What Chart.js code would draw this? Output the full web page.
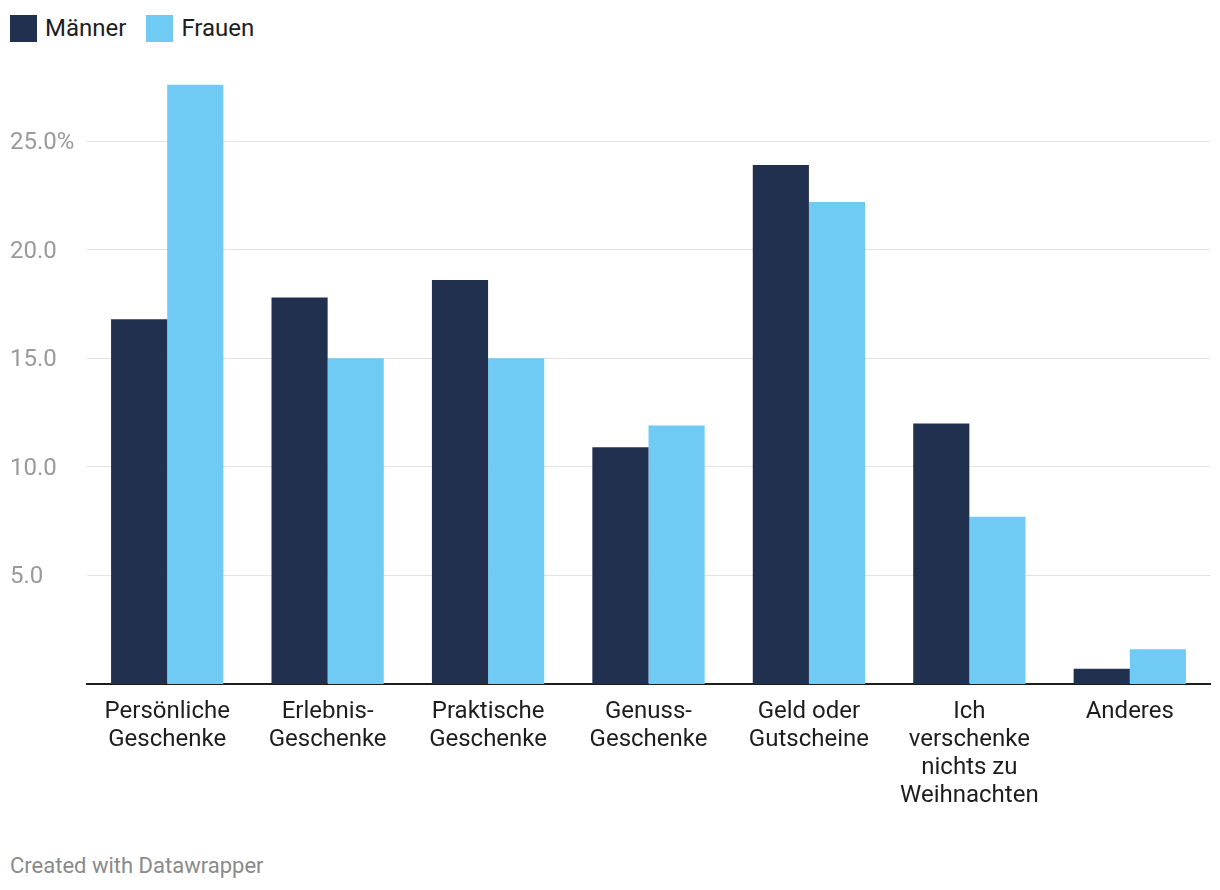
<!DOCTYPE html>
<html>
<head>
<meta charset="utf-8">
<script src="https://cdn.jsdelivr.net/npm/chart.js@4.4.0/dist/chart.umd.min.js"></script>
<style>
  html, body { margin: 0; padding: 0; background: #fff; }
  body { width: 1220px; height: 890px; position: relative; font-family: Roboto, "Noto Sans", sans-serif; overflow: hidden; }
  #legend { position: absolute; left: 10px; top: 14px; display: flex; align-items: center; font-size: 24px; color: #1d1d1d; }
  .item { display: flex; align-items: center; margin-right: 20px; }
  .sw { width: 27px; height: 27px; margin-right: 8px; }
  #wrap { position: absolute; left: 0; top: 0; width: 1220px; height: 830px; }
  #foot { position: absolute; left: 10px; top: 853px; font-size: 22px; color: #8a8a8a; }
</style>
</head>
<body>
<div id="legend"></div>
<div id="wrap"><canvas id="chart"></canvas></div>
<div id="foot">Created with Datawrapper</div>
<script>
// Kategorien (mehrzeilig wie im Original)
const categories = [
  ["Persönliche", "Geschenke"],
  ["Erlebnis-", "Geschenke"],
  ["Praktische", "Geschenke"],
  ["Genuss-", "Geschenke"],
  ["Geld oder", "Gutscheine"],
  ["Ich", "verschenke", "nichts zu", "Weihnachten"],
  ["Anderes"]
];
const maenner = [16.8, 17.8, 18.6, 10.9, 23.9, 12.0, 0.7];
const frauen = [27.6, 15.0, 15.0, 11.9, 22.2, 7.7, 1.6];
const yTicks = [5, 10, 15, 20, 25];

const DARK = "#223050";
const LIGHT = "#70cbf4";

// Legende als HTML
const legend = document.getElementById("legend");
[["Männer", DARK], ["Frauen", LIGHT]].forEach(([name, col]) => {
  const it = document.createElement("div");
  it.className = "item";
  it.innerHTML = '<div class="sw" style="background:' + col + '"></div><span>' + name + "</span>";
  legend.appendChild(it);
});

const chart = new Chart(document.getElementById("chart"), {
  type: "bar",
  data: {
    labels: categories,
    datasets: [
      { label: "Männer", data: maenner, backgroundColor: DARK },
      { label: "Frauen", data: frauen, backgroundColor: LIGHT }
    ]
  },
  options: {
    responsive: true,
    maintainAspectRatio: false,
    animation: false,
    layout: { padding: { left: 10, right: 10, top: 76, bottom: 0 } },
    plugins: { legend: { display: false }, tooltip: { enabled: false } },
    datasets: { bar: { categoryPercentage: 0.7, barPercentage: 1.0 } },
    scales: {
      x: {
        grid: { display: false },
        border: { display: true, color: "#1d1d1d", width: 2 },
        ticks: {
          color: "#1d1d1d",
          font: { family: "Roboto", size: 24, lineHeight: 1.17 },
          padding: 6,
          maxRotation: 0,
          autoSkip: false
        },
        afterFit: (s) => { s.height = 146; }
      },
      y: {
        min: 0,
        max: 28,
        afterBuildTicks: (s) => { s.ticks = yTicks.map((v) => ({ value: v })); },
        afterFit: (s) => { s.width = 77; },
        grid: { color: "#e3e3e3", lineWidth: 1, drawTicks: false },
        border: { display: false },
        ticks: {
          color: "#9a9a9a",
          font: { family: "Roboto", size: 24 },
          crossAlign: "far",
          padding: 0,
          labelOffset: 2,
          callback: (v) => (v === 25 ? v.toFixed(1) + "%" : v.toFixed(1))
        }
      }
    }
  }
});
</script>
</body>
</html>
